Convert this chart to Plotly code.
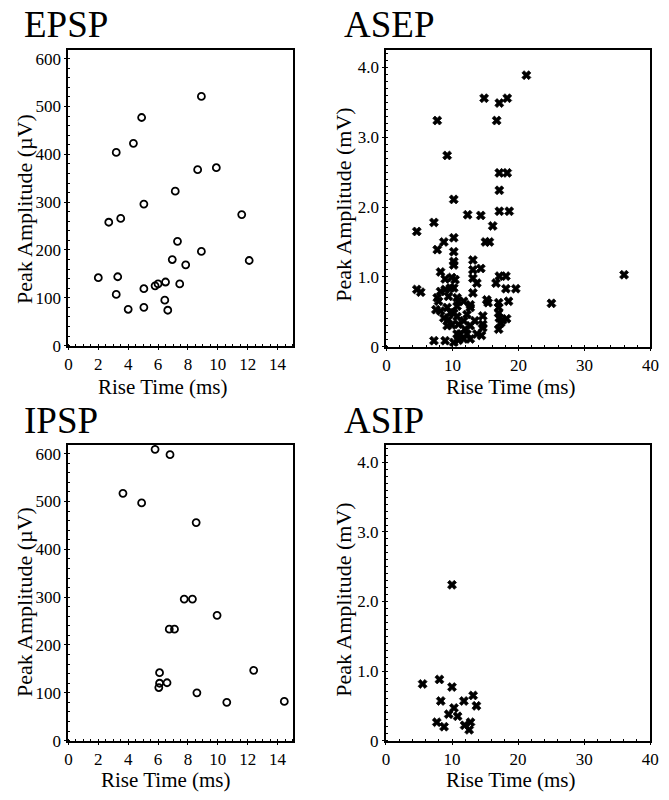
import plotly.graph_objects as go

# ---------------- data ----------------
epsp_rise = [2.0, 2.7, 3.2, 3.5, 3.3, 3.2, 4.0, 4.35, 4.9, 5.05, 5.05, 5.05, 5.8, 6.0,
             6.5, 6.45, 6.65, 6.95, 7.15, 7.3, 7.45, 7.85, 8.65, 8.9, 8.9, 9.9, 11.6, 12.1]
epsp_amp = [142, 258, 404, 266, 144, 107, 76, 423, 477, 296, 119, 80, 125, 129,
            133, 95, 74, 180, 323, 218, 129, 169, 368, 521, 197, 372, 274, 178]

ipsp_rise = [3.65, 4.9, 5.8, 6.8, 8.55, 7.75, 8.3, 6.75, 7.1, 9.95, 6.1, 6.1, 6.05, 6.6,
             8.6, 10.6, 12.4, 14.45]
ipsp_amp = [517, 497, 609, 598, 456, 296, 296, 233, 233, 262, 142, 120, 111, 121,
            100, 80, 147, 82]

asep_rise = [21.2, 14.8, 17.1, 18.3, 7.7, 16.7, 9.2, 17.1, 18.3, 17.1, 10.2, 12.3, 14.3, 17.1,
             18.6, 7.2, 16.1, 4.6, 8.7, 10.2, 15.0, 15.6, 7.7, 10.2, 10.2, 10.2, 13.1, 8.2,
             8.9, 9.9, 10.4, 13.1, 14.3, 13.1, 13.7, 17.1, 18.1, 16.6, 18.1, 19.6, 4.6, 5.2,
             8.2, 8.9, 9.7, 10.2, 13.1, 7.7, 7.9, 9.4, 10.7, 10.9, 11.7, 12.7, 15.2, 15.4,
             17.0, 18.5, 25.0, 36.0, 7.5, 8.2, 9.2, 9.7, 10.7, 12.7, 17.0, 17.0, 10.2, 10.7,
             12.2, 14.6, 17.1, 17.6, 18.2, 17.3, 8.7, 9.4, 9.2, 9.9, 11.7, 10.9, 13.4, 14.6,
             17.0, 10.7, 11.9, 12.7, 14.6, 11.2, 12.2, 13.7, 14.4, 11.7, 12.7, 10.9, 10.2,
             7.2, 8.9]
asep_amp = [3.89, 3.56, 3.49, 3.56, 3.24, 3.24, 2.74, 2.49, 2.49, 2.24, 2.11, 1.89, 1.88, 1.94,
            1.94, 1.78, 1.73, 1.65, 1.50, 1.56, 1.50, 1.50, 1.39, 1.36, 1.22, 1.17, 1.24, 1.07,
            0.97, 0.99, 0.96, 1.10, 1.12, 0.98, 0.91, 1.01, 1.01, 0.91, 0.83, 0.83, 0.82, 0.78,
            0.79, 0.82, 0.84, 0.84, 0.77, 0.70, 0.65, 0.72, 0.70, 0.65, 0.65, 0.60, 0.67, 0.63,
            0.63, 0.65, 0.62, 1.03, 0.53, 0.51, 0.56, 0.49, 0.58, 0.56, 0.56, 0.48, 0.48, 0.43,
            0.46, 0.44, 0.41, 0.38, 0.40, 0.34, 0.41, 0.39, 0.30, 0.31, 0.37, 0.32, 0.37, 0.32,
            0.25, 0.18, 0.25, 0.30, 0.27, 0.18, 0.18, 0.18, 0.16, 0.11, 0.11, 0.09, 0.06,
            0.085, 0.085]

asip_rise = [5.55, 8.1, 10.0, 10.0, 8.3, 13.2, 11.8, 13.7, 10.3, 9.5, 10.85, 7.7, 8.8, 11.9, 12.8, 12.6]
asip_amp = [0.815, 0.88, 2.24, 0.77, 0.57, 0.65, 0.57, 0.50, 0.47, 0.38, 0.35, 0.265, 0.20, 0.22, 0.265, 0.155]

uv_ticks = [0, 100, 200, 300, 400, 500, 600]
ms_small_ticks = [0, 2, 4, 6, 8, 10, 12, 14]
mv_ticks = [0, 1, 2, 3, 4]
mv_labels = ["0", "1.0", "2.0", "3.0", "4.0"]
ms_large_ticks = [0, 10, 20, 30, 40]

panel_titles = ["EPSP", "ASEP", "IPSP", "ASIP"]
y_titles = ["Peak Amplitude (µV)", "Peak Amplitude (mV)", "Peak Amplitude (µV)", "Peak Amplitude (mV)"]
x_title = "Rise Time (ms)"

# ---------------- layout ----------------
W, H = 669, 800
FONT = "Liberation Serif, Times New Roman, serif"

def px_x(p):
    return p / W

def px_y(p):
    return 1 - p / H

# frames in pixels: (left, right, top, bottom)
frames = [(65.7, 295.0, 50.7, 350.0),
          (390.0, 659.3, 50.7, 351.0),
          (65.7, 295.0, 450.7, 750.0),
          (389.5, 659.0, 450.7, 750.0)]

fig = go.Figure()

circle = dict(symbol="circle-open", size=7, color="black", line=dict(width=1.8, color="black"))
cross = dict(symbol="x", size=8, color="black", line=dict(width=0.7, color="black"))

fig.add_trace(go.Scatter(x=epsp_rise, y=epsp_amp, mode="markers", marker=circle,
                         xaxis="x", yaxis="y", showlegend=False))
fig.add_trace(go.Scatter(x=asep_rise, y=asep_amp, mode="markers", marker=cross,
                         xaxis="x2", yaxis="y2", showlegend=False))
fig.add_trace(go.Scatter(x=ipsp_rise, y=ipsp_amp, mode="markers", marker=circle,
                         xaxis="x3", yaxis="y3", showlegend=False))
fig.add_trace(go.Scatter(x=asip_rise, y=asip_amp, mode="markers", marker=cross,
                         xaxis="x4", yaxis="y4", showlegend=False))

tickfont = dict(family=FONT, size=17, color="black")
common = dict(showgrid=False, zeroline=False, showline=True, linecolor="black", linewidth=2,
              mirror=True, ticks="outside", ticklen=2, tickwidth=1, tickcolor="black",
              tickfont=tickfont, fixedrange=True)

layout = dict(width=W, height=H, margin=dict(l=0, r=0, t=0, b=0),
              paper_bgcolor="white", plot_bgcolor="white", showlegend=False)

xcfg = [dict(range=[0, 15.05], tickvals=ms_small_ticks,
             minor=dict(ticks="inside", ticklen=2, dtick=0.5, tickcolor="black")),
        dict(range=[0, 40], tickvals=ms_large_ticks,
             minor=dict(ticks="inside", ticklen=2, dtick=2, tickcolor="black")),
        dict(range=[0, 15.05], tickvals=ms_small_ticks,
             minor=dict(ticks="inside", ticklen=2, dtick=0.5, tickcolor="black")),
        dict(range=[0, 40], tickvals=ms_large_ticks,
             minor=dict(ticks="inside", ticklen=2, dtick=2, tickcolor="black"))]
ycfg = [dict(range=[0, 618], tickvals=uv_ticks,
             minor=dict(ticks="inside", ticklen=2, dtick=20, tickcolor="black")),
        dict(range=[0, 4.25], tickvals=mv_ticks, ticktext=mv_labels,
             minor=dict(ticks="inside", ticklen=2, dtick=0.1, tickcolor="black")),
        dict(range=[0, 618], tickvals=uv_ticks,
             minor=dict(ticks="inside", ticklen=2, dtick=20, tickcolor="black")),
        dict(range=[0, 4.25], tickvals=mv_ticks, ticktext=mv_labels,
             minor=dict(ticks="inside", ticklen=2, dtick=0.1, tickcolor="black"))]

for i, (l, r, t, b) in enumerate(frames):
    sx = "" if i == 0 else str(i + 1)
    xa = dict(common, domain=[px_x(l), px_x(r)], anchor="y" + sx, **xcfg[i])
    ya = dict(common, domain=[px_y(b), px_y(t)], anchor="x" + sx, **ycfg[i])
    layout["xaxis" + sx] = xa
    layout["yaxis" + sx] = ya

fig.update_layout(**layout)

# panel titles
title_pos = [(18, 25), (345, 25), (18, 426), (345, 426)]
for name, (x, y) in zip(panel_titles, title_pos):
    fig.add_annotation(text=name, xref="paper", yref="paper", x=px_x(x), y=px_y(y),
                       xanchor="left", yanchor="middle", showarrow=False,
                       font=dict(family=FONT, size=37, color="black"))

# y axis titles
ytitle_pos = [(21, 212), (346, 207), (21, 610), (346, 607)]
for txt, (x, y) in zip(y_titles, ytitle_pos):
    fig.add_annotation(text=txt, xref="paper", yref="paper", x=px_x(x), y=px_y(y),
                       xanchor="center", yanchor="middle", showarrow=False, textangle=-90,
                       font=dict(family=FONT, size=22, color="black"))

# x axis titles
xtitle_pos = [(162, 392), (517, 392), (165, 790), (517, 790)]
for (x, y) in xtitle_pos:
    fig.add_annotation(text=x_title, xref="paper", yref="paper", x=px_x(x), y=px_y(y),
                       xanchor="center", yanchor="middle", showarrow=False, borderpad=0,
                       font=dict(family=FONT, size=21, color="black"))

fig.write_html("out.html", config={"displayModeBar": False},
               post_script="document.body.style.margin='0';document.body.style.padding='0';"
                           "document.body.style.overflow='hidden';")
